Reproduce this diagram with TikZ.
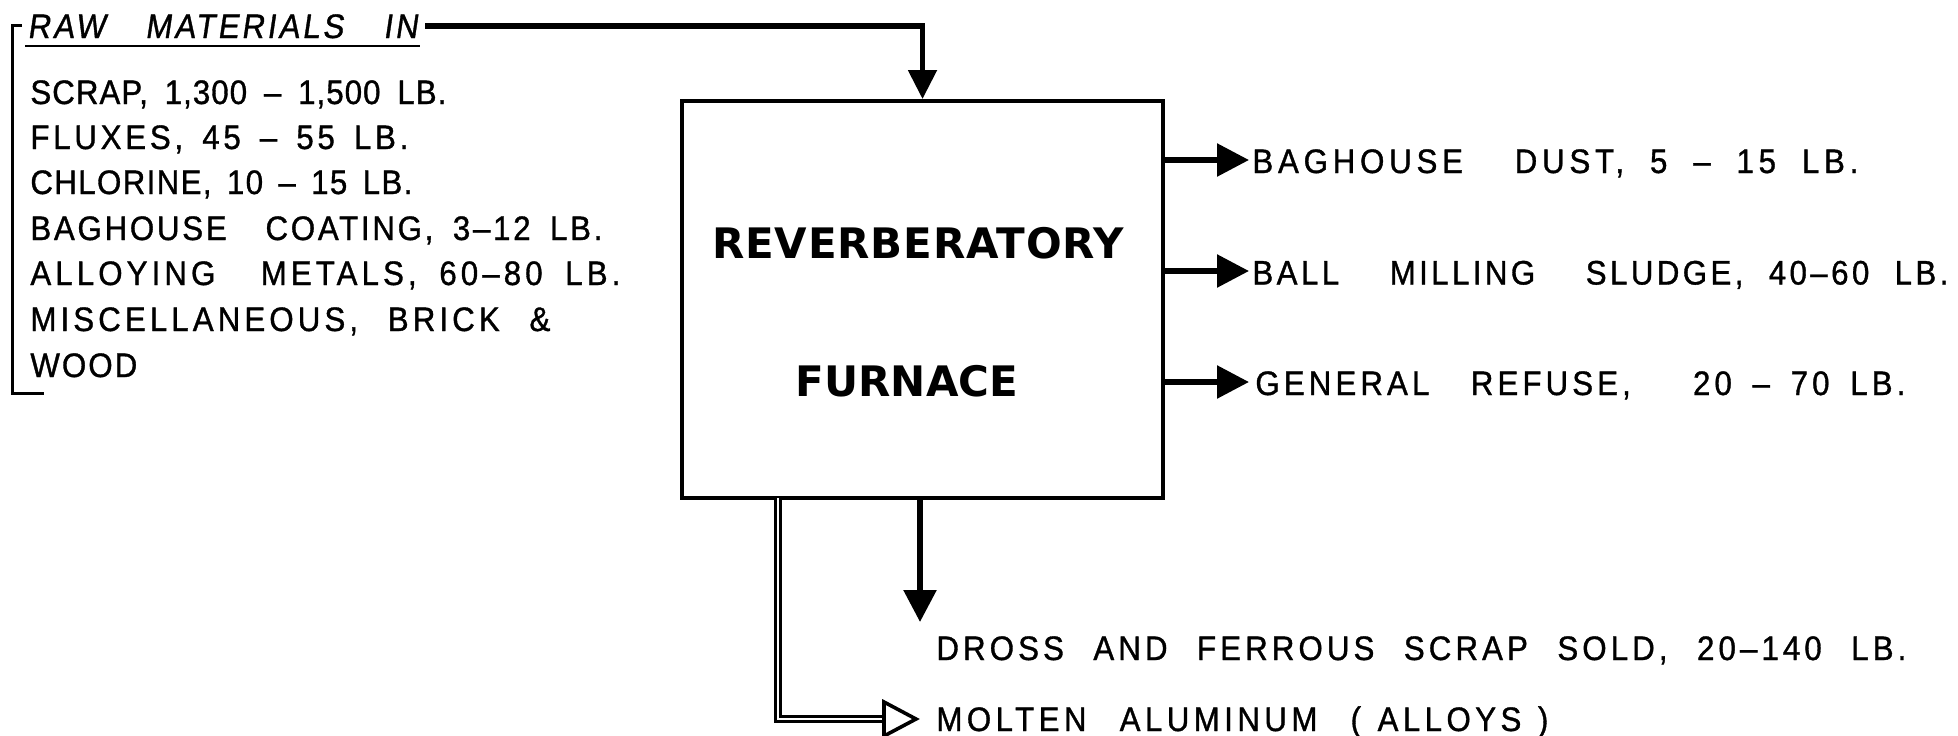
\documentclass[tikz,border=0pt]{standalone}
\usepackage{fontspec}
\setmainfont{Liberation Sans}
\newfontfamily\lett[FakeStretch=0.92,FakeBold=1]{Liberation Sans}
\newfontfamily\lettsl[FakeStretch=0.92,FakeSlant=0.15,FakeBold=1]{Liberation Sans}
\newfontfamily\ttl{DejaVu Sans}
\newcommand\fitw[3]{\makebox[#1][s]{\addfontfeatures{LetterSpace=#2}#3}}
\newcommand\spc[2]{{\addfontfeatures{LetterSpace=#1}#2}}
\usetikzlibrary{arrows.meta}
\begin{document}
\begin{tikzpicture}[x=0.5pt,y=-0.5pt,
  lbl/.style={inner sep=0pt, anchor=base west, font=\lett\fontsize{17}{20}\selectfont},
  lblsl/.style={lbl, font=\lettsl\fontsize{17}{20}\selectfont},
  ttlnode/.style={inner sep=0pt, font=\ttl\bfseries\fontsize{21}{25}\selectfont},
  flow/.style={line width=2.8pt, -{Triangle[length=16pt,width=16pt]}},
  feed/.style={line width=2.6pt, -{Triangle[length=14.5pt,width=14pt]}},
  hollowline/.style={double, line width=1.6pt, double distance=1.2pt},
  hollowhead/.style={line width=1.8pt, fill=white, line join=miter},
  furnbox/.style={draw, line width=2pt, inner sep=0pt, minimum width=240.5pt, minimum height=198.5pt},
  bracket/.style={line width=1.5pt}
]
\useasboundingbox (0,0) rectangle (1958,735);

% furnace box
\node[furnbox] (furn) at (922.5,299.5) {};
\node[ttlnode] (t1) at (918,243) {\spc{2}{REVERBERATORY}};
\node[ttlnode] (t2) at (907,381) {FURNACE};

% raw materials
\node[lblsl] (raw) at (27,38) {\fitw{195pt}{8.5}{RAW~~MATERIALS~~IN}};
\draw[line width=1.2pt] ([xshift=-1pt,yshift=-4pt]raw.base west) -- ([xshift=1pt,yshift=-4pt]raw.base east);
\draw[bracket] (22,25) -- (12,25) -- (12,393) -- (44,393);

\node[lbl] (i1) at (30,104) {\fitw{208pt}{3}{SCRAP, 1,300 – 1,500 LB.}};
\node[lbl] (i2) at (30,149) {\fitw{189pt}{11}{FLUXES, 45 – 55 LB.}};
\node[lbl] (i3) at (30,194) {\fitw{191pt}{4}{CHLORINE, 10 – 15 LB.}};
\node[lbl] (i4) at (30,240) {\fitw{286pt}{8}{BAGHOUSE~~COATING, 3–12 LB.}};
\node[lbl] (i5) at (30,285) {\fitw{295pt}{12}{ALLOYING~~METALS, 60–80 LB.}};
\node[lbl] (i6) at (30,331) {\fitw{260pt}{12}{MISCELLANEOUS, BRICK \&}};
\node[lbl] (i7) at (30,377) {\spc{6}{WOOD}};

\coordinate (rawstart) at (425,26);
\draw[feed] (rawstart) -| (furn.north);

% outputs right
\coordinate (tip1) at (1249,160);
\coordinate (tip2) at (1249,271);
\coordinate (tip3) at (1249,382);
\draw[flow] (furn.east |- tip1) -- (tip1);
\draw[flow] (furn.east |- tip2) -- (tip2);
\draw[flow] (furn.east |- tip3) -- (tip3);
\node[lbl] (o1) at (1252,173) {\fitw{303pt}{14}{BAGHOUSE~~DUST, 5 – 15 LB.}};
\node[lbl] (o2) at (1252,284.5) {\fitw{348pt}{10}{BALL~~MILLING~~SLUDGE, 40–60 LB.}};
\node[lbl] (o3) at (1255,395) {\fitw{325pt}{12}{GENERAL~~REFUSE,~~~20 – 70 LB.}};

% outputs bottom
\coordinate (drtip) at (920,622);
\draw[flow] (furn.south -| drtip) -- (drtip);
\node[lbl] (o4) at (936,660) {\fitw{485pt}{12}{DROSS AND FERROUS SCRAP SOLD, 20–140 LB.}};

\coordinate (mstart) at (778,498);
\coordinate (mbase) at (884,719);
\coordinate (mtip) at (916,719);
\draw[hollowline] (mstart) |- (mbase);
\draw[hollowhead] (mtip) -- ([shift={(-32,-17)}]mtip) -- ([shift={(-32,17)}]mtip) -- cycle;
\node[lbl] (o5) at (936,731) {\fitw{306pt}{13}{MOLTEN~~ALUMINUM~~( ALLOYS )}};
\end{tikzpicture}
\end{document}
